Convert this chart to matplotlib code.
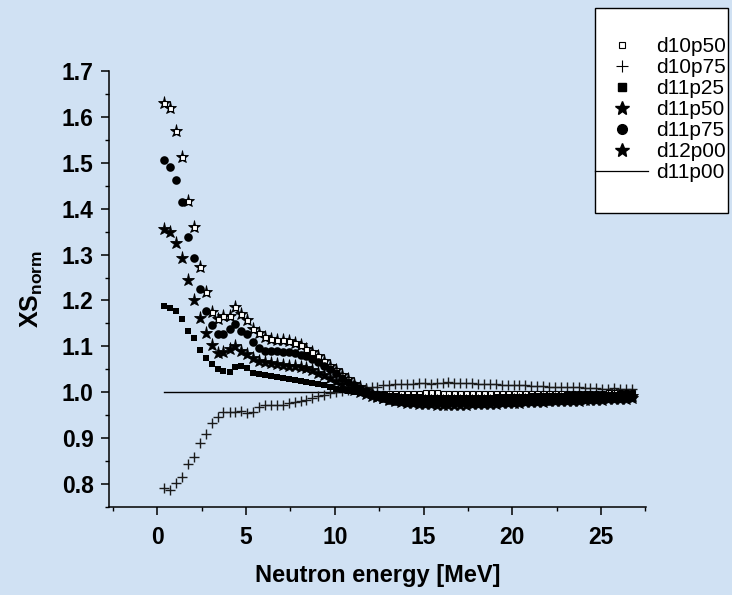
import matplotlib
matplotlib.use("Agg")
import matplotlib.pyplot as plt
from matplotlib.lines import Line2D
from matplotlib.patches import Rectangle

plt.rcParams['font.family'] = ['Liberation Sans', 'DejaVu Sans']
plt.rcParams['mathtext.fontset'] = 'custom'
plt.rcParams['mathtext.rm'] = 'Liberation Sans'
plt.rcParams['mathtext.bf'] = 'Liberation Sans:bold'

# neutron energy grid [MeV]
energy = [0.40, 0.73, 1.07, 1.40, 1.73, 2.07, 2.40, 2.73, 3.07, 3.40,
          3.73, 4.07, 4.40, 4.73, 5.07, 5.40, 5.73, 6.07, 6.40, 6.73,
          7.07, 7.40, 7.73, 8.07, 8.40, 8.73, 9.07, 9.40, 9.73, 10.07,
          10.40, 10.73, 11.07, 11.40, 11.73, 12.07, 12.40, 12.73, 13.07, 13.40,
          13.73, 14.07, 14.40, 14.73, 15.07, 15.40, 15.73, 16.07, 16.40, 16.73,
          17.07, 17.40, 17.73, 18.07, 18.40, 18.73, 19.07, 19.40, 19.73, 20.07,
          20.40, 20.73, 21.07, 21.40, 21.73, 22.07, 22.40, 22.73, 23.07, 23.40,
          23.73, 24.07, 24.40, 24.73, 25.07, 25.40, 25.73, 26.07, 26.40, 26.73]

d10p50 = [1.630, 1.619, 1.570, 1.512, 1.416, 1.360, 1.273, 1.218, 1.175, 1.159,
          1.167, 1.167, 1.186, 1.170, 1.157, 1.137, 1.130, 1.120, 1.116, 1.114,
          1.113, 1.111, 1.107, 1.102, 1.095, 1.087, 1.078, 1.068, 1.058, 1.048,
          1.038, 1.028, 1.019, 1.011, 1.004, 0.999, 0.998, 0.998, 0.998, 0.998,
          0.998, 0.999, 0.999, 0.999, 1.000, 1.000, 1.000, 0.999, 0.999, 0.999,
          0.999, 0.999, 0.999, 0.999, 0.998, 0.998, 0.998, 0.998, 0.998, 0.998,
          0.998, 0.998, 0.998, 0.998, 0.998, 0.998, 0.998, 0.999, 0.999, 0.999,
          0.999, 0.999, 0.999, 0.999, 0.999, 1.000, 1.000, 1.000, 1.000, 1.000]

d10p75 = [0.791, 0.788, 0.802, 0.815, 0.843, 0.860, 0.889, 0.910, 0.932, 0.947,
          0.957, 0.957, 0.956, 0.959, 0.954, 0.957, 0.967, 0.972, 0.973, 0.973,
          0.973, 0.976, 0.979, 0.981, 0.983, 0.988, 0.991, 0.993, 0.998, 1.001,
          1.003, 1.005, 1.007, 1.008, 1.010, 1.011, 1.012, 1.015, 1.016, 1.017,
          1.018, 1.018, 1.019, 1.020, 1.020, 1.019, 1.021, 1.021, 1.022, 1.021,
          1.021, 1.020, 1.020, 1.019, 1.018, 1.017, 1.017, 1.016, 1.016, 1.015,
          1.015, 1.016, 1.014, 1.013, 1.013, 1.012, 1.012, 1.011, 1.012, 1.011,
          1.011, 1.010, 1.009, 1.009, 1.008, 1.008, 1.009, 1.008, 1.008, 1.007]

d11p25 = [1.189, 1.184, 1.177, 1.160, 1.133, 1.119, 1.092, 1.075, 1.061, 1.050,
          1.046, 1.044, 1.054, 1.057, 1.052, 1.041, 1.039, 1.038, 1.036, 1.033,
          1.030, 1.028, 1.027, 1.025, 1.023, 1.020, 1.018, 1.016, 1.012, 1.008,
          1.005, 1.002, 1.000, 0.998, 0.997, 0.995, 0.994, 0.993, 0.992, 0.991,
          0.990, 0.990, 0.989, 0.989, 0.988, 0.988, 0.988, 0.987, 0.987, 0.987,
          0.987, 0.987, 0.988, 0.988, 0.988, 0.988, 0.989, 0.989, 0.989, 0.990,
          0.990, 0.990, 0.991, 0.991, 0.991, 0.992, 0.992, 0.992, 0.993, 0.993,
          0.993, 0.994, 0.994, 0.994, 0.995, 0.995, 0.995, 0.996, 0.996, 0.997]

d11p50 = [1.356, 1.349, 1.325, 1.293, 1.245, 1.200, 1.162, 1.130, 1.102, 1.086,
          1.088, 1.095, 1.101, 1.090, 1.083, 1.075, 1.068, 1.065, 1.064, 1.062,
          1.060, 1.058, 1.057, 1.055, 1.052, 1.048, 1.043, 1.037, 1.031, 1.024,
          1.017, 1.010, 1.005, 1.000, 0.996, 0.992, 0.989, 0.987, 0.985, 0.984,
          0.983, 0.982, 0.981, 0.981, 0.980, 0.980, 0.980, 0.980, 0.980, 0.980,
          0.980, 0.980, 0.981, 0.981, 0.981, 0.981, 0.982, 0.982, 0.982, 0.983,
          0.983, 0.984, 0.984, 0.984, 0.985, 0.985, 0.986, 0.986, 0.987, 0.987,
          0.987, 0.988, 0.988, 0.989, 0.989, 0.989, 0.990, 0.990, 0.991, 0.991]

d11p75 = [1.505, 1.490, 1.462, 1.415, 1.338, 1.292, 1.226, 1.178, 1.146, 1.127,
          1.127, 1.137, 1.148, 1.133, 1.126, 1.109, 1.097, 1.090, 1.090, 1.089,
          1.088, 1.087, 1.085, 1.082, 1.078, 1.073, 1.066, 1.058, 1.050, 1.041,
          1.032, 1.023, 1.015, 1.008, 1.002, 0.996, 0.991, 0.987, 0.984, 0.982,
          0.980, 0.979, 0.978, 0.978, 0.977, 0.977, 0.977, 0.977, 0.976, 0.976,
          0.976, 0.977, 0.977, 0.977, 0.977, 0.978, 0.978, 0.978, 0.979, 0.979,
          0.980, 0.980, 0.981, 0.981, 0.982, 0.982, 0.983, 0.983, 0.984, 0.984,
          0.985, 0.985, 0.986, 0.986, 0.987, 0.987, 0.988, 0.988, 0.989, 0.989]

d12p00 = [1.630, 1.619, 1.570, 1.512, 1.416, 1.360, 1.273, 1.218, 1.175, 1.159,
          1.167, 1.167, 1.186, 1.170, 1.157, 1.137, 1.130, 1.120, 1.116, 1.114,
          1.113, 1.111, 1.107, 1.102, 1.095, 1.087, 1.078, 1.068, 1.058, 1.048,
          1.038, 1.028, 1.019, 1.011, 1.004, 0.998, 0.992, 0.987, 0.983, 0.980,
          0.978, 0.977, 0.976, 0.975, 0.974, 0.974, 0.973, 0.973, 0.973, 0.973,
          0.973, 0.973, 0.974, 0.974, 0.974, 0.975, 0.975, 0.976, 0.976, 0.977,
          0.977, 0.978, 0.978, 0.979, 0.979, 0.980, 0.980, 0.981, 0.981, 0.982,
          0.982, 0.983, 0.983, 0.984, 0.984, 0.985, 0.985, 0.986, 0.986, 0.987]

# reference (d11p00) is flat at 1
d11p00 = [1.0] * len(energy)

x_ticks = [0, 5, 10, 15, 20, 25]
y_ticks = [0.8, 0.9, 1.0, 1.1, 1.2, 1.3, 1.4, 1.5, 1.6, 1.7]

bg = '#d0e1f3'
fig = plt.figure(figsize=(7.32, 5.95), dpi=100, facecolor=bg)
ax = fig.add_axes([0.1489, 0.1479, 0.7336, 0.7328])
ax.set_facecolor('none')

star = dict(marker='*', ms=9.5, mfc='black', mec='black', mew=0.6, ls='none')
ax.plot(energy, d12p00, zorder=3, **star)
ax.plot(energy, d10p50, marker='s', ms=3.6, mfc='white', mec='black', mew=0.8,
        ls='none', zorder=4)
ax.plot(energy, d10p75, marker='+', ms=7, color='#1a1a1a', mew=1.0, ls='none', zorder=3)
ax.plot(energy, d11p25, marker='s', ms=5.0, color='black', mew=0, ls='none', zorder=5)
ax.plot(energy, d11p50, zorder=5, **star)
ax.plot(energy, d11p75, marker='o', ms=6.2, color='black', mew=0, ls='none', zorder=5)
ax.plot(energy, d11p00, color='black', lw=1.0, zorder=2)

ax.set_xlim(-2.72, 27.53)
ax.set_ylim(0.752, 1.7)
ax.set_xticks(x_ticks)
ax.set_xticks([-2.5, 2.5, 7.5, 12.5, 17.5, 22.5, 27.5], minor=True)
ax.set_yticks(y_ticks)
ax.set_yticks([0.75 + 0.1 * k for k in range(10)], minor=True)
ax.set_xticklabels([str(t) for t in x_ticks], fontsize=16.5, fontweight='bold')
ax.set_yticklabels(['%.1f' % t for t in y_ticks], fontsize=16.5, fontweight='bold')

for side in ('top', 'right'):
    ax.spines[side].set_visible(False)
for side in ('left', 'bottom'):
    ax.spines[side].set_linewidth(1.1)
ax.tick_params(which='major', direction='out', length=6, width=1.1)
ax.tick_params(axis='y', which='major', pad=5)
ax.tick_params(axis='x', which='major', pad=8)
ax.tick_params(which='minor', direction='out', length=3, width=1.0)

ax.set_xlabel('Neutron energy [MeV]', fontsize=17, fontweight='bold')
ax.xaxis.set_label_coords(0.5, -0.13)
ax.set_ylabel(r'$\mathbf{XS_{norm}}$', fontsize=18)
ax.yaxis.set_label_coords(-0.119, 0.5)

# legend box with its entries
fig.patches.append(Rectangle((0.8128, 0.642), 0.1817, 0.3445, transform=fig.transFigure,
                             facecolor='white', edgecolor='black', lw=1.0, zorder=1))
handles = [
    Line2D([], [], marker='s', ms=5, mfc='white', mec='black', mew=0.8, ls='none'),
    Line2D([], [], marker='+', ms=9, color='black', mew=0.8, ls='none'),
    Line2D([], [], marker='s', ms=6, color='black', ls='none'),
    Line2D([], [], marker='*', ms=10, color='black', ls='none'),
    Line2D([], [], marker='o', ms=7, color='black', ls='none'),
    Line2D([], [], marker='*', ms=10, color='black', ls='none'),
    Line2D([], [], color='black', lw=0.9),
]
labels = ['d10p50', 'd10p75', 'd11p25', 'd11p50', 'd11p75', 'd12p00', 'd11p00']
leg = fig.legend(handles, labels, loc='upper left', bbox_to_anchor=(0.8135, 0.938),
                 frameon=False, fontsize=15, handlelength=2.5, handletextpad=0.4,
                 labelspacing=0.1, borderpad=0, borderaxespad=0)
leg.set_zorder(2)

fig.savefig('out.png', dpi=100, facecolor=bg)
